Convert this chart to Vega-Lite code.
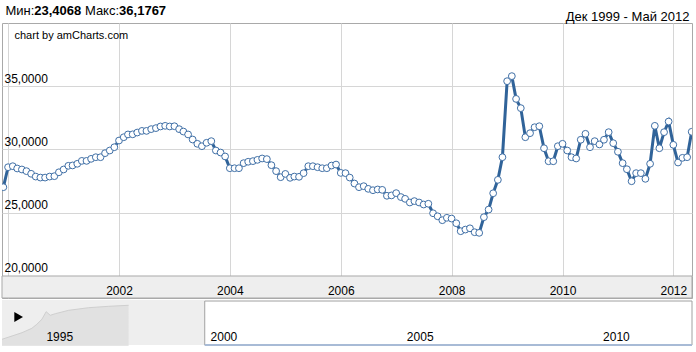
{
  "$schema": "https://vega.github.io/schema/vega-lite/v6.json",
  "background": "white",
  "padding": {"left": 0, "top": 3, "right": 6, "bottom": 0},
  "spacing": 0,
  "config": {
    "font": "Liberation Sans",
    "concat": {"spacing": 0},
    "view": {"stroke": null}
  },
  "datasets": {
    "rate": [
      {"d": "1999-12-01", "v": 27.02}, {"d": "2000-01-01", "v": 28.60}, {"d": "2000-02-01", "v": 28.68}, {"d": "2000-03-01", "v": 28.50},
      {"d": "2000-04-01", "v": 28.42}, {"d": "2000-05-01", "v": 28.29}, {"d": "2000-06-01", "v": 28.08}, {"d": "2000-07-01", "v": 27.86},
      {"d": "2000-08-01", "v": 27.78}, {"d": "2000-09-01", "v": 27.78}, {"d": "2000-10-01", "v": 27.86}, {"d": "2000-11-01", "v": 27.89},
      {"d": "2000-12-01", "v": 28.20}, {"d": "2001-01-01", "v": 28.42}, {"d": "2001-02-01", "v": 28.71}, {"d": "2001-03-01", "v": 28.74},
      {"d": "2001-04-01", "v": 28.87}, {"d": "2001-05-01", "v": 29.10}, {"d": "2001-06-01", "v": 29.10}, {"d": "2001-07-01", "v": 29.26},
      {"d": "2001-08-01", "v": 29.39}, {"d": "2001-09-01", "v": 29.39}, {"d": "2001-10-01", "v": 29.71}, {"d": "2001-11-01", "v": 29.92},
      {"d": "2001-12-01", "v": 30.18}, {"d": "2002-01-01", "v": 30.71}, {"d": "2002-02-01", "v": 30.97}, {"d": "2002-03-01", "v": 31.19},
      {"d": "2002-04-01", "v": 31.20}, {"d": "2002-05-01", "v": 31.34}, {"d": "2002-06-01", "v": 31.47}, {"d": "2002-07-01", "v": 31.47},
      {"d": "2002-08-01", "v": 31.61}, {"d": "2002-09-01", "v": 31.69}, {"d": "2002-10-01", "v": 31.82}, {"d": "2002-11-01", "v": 31.87},
      {"d": "2002-12-01", "v": 31.82}, {"d": "2003-01-01", "v": 31.84}, {"d": "2003-02-01", "v": 31.61}, {"d": "2003-03-01", "v": 31.42},
      {"d": "2003-04-01", "v": 31.19}, {"d": "2003-05-01", "v": 30.79}, {"d": "2003-06-01", "v": 30.45}, {"d": "2003-07-01", "v": 30.26},
      {"d": "2003-08-01", "v": 30.53}, {"d": "2003-09-01", "v": 30.66}, {"d": "2003-10-01", "v": 29.92}, {"d": "2003-11-01", "v": 29.76},
      {"d": "2003-12-01", "v": 29.45}, {"d": "2004-01-01", "v": 28.52}, {"d": "2004-02-01", "v": 28.52}, {"d": "2004-03-01", "v": 28.52},
      {"d": "2004-04-01", "v": 28.92}, {"d": "2004-05-01", "v": 29.03}, {"d": "2004-06-01", "v": 29.08}, {"d": "2004-07-01", "v": 29.18},
      {"d": "2004-08-01", "v": 29.29}, {"d": "2004-09-01", "v": 29.24}, {"d": "2004-10-01", "v": 28.76}, {"d": "2004-11-01", "v": 28.29},
      {"d": "2004-12-01", "v": 27.81}, {"d": "2005-01-01", "v": 28.07}, {"d": "2005-02-01", "v": 27.76}, {"d": "2005-03-01", "v": 27.86},
      {"d": "2005-04-01", "v": 27.84}, {"d": "2005-05-01", "v": 28.13}, {"d": "2005-06-01", "v": 28.68}, {"d": "2005-07-01", "v": 28.68},
      {"d": "2005-08-01", "v": 28.60}, {"d": "2005-09-01", "v": 28.52}, {"d": "2005-10-01", "v": 28.52}, {"d": "2005-11-01", "v": 28.73},
      {"d": "2005-12-01", "v": 28.81}, {"d": "2006-01-01", "v": 28.15}, {"d": "2006-02-01", "v": 28.13}, {"d": "2006-03-01", "v": 27.78},
      {"d": "2006-04-01", "v": 27.31}, {"d": "2006-05-01", "v": 27.02}, {"d": "2006-06-01", "v": 27.10}, {"d": "2006-07-01", "v": 26.89},
      {"d": "2006-08-01", "v": 26.78}, {"d": "2006-09-01", "v": 26.84}, {"d": "2006-10-01", "v": 26.81}, {"d": "2006-11-01", "v": 26.34},
      {"d": "2006-12-01", "v": 26.37}, {"d": "2007-01-01", "v": 26.55}, {"d": "2007-02-01", "v": 26.24}, {"d": "2007-03-01", "v": 26.10},
      {"d": "2007-04-01", "v": 25.81}, {"d": "2007-05-01", "v": 25.92}, {"d": "2007-06-01", "v": 25.81}, {"d": "2007-07-01", "v": 25.65},
      {"d": "2007-08-01", "v": 25.71}, {"d": "2007-09-01", "v": 24.96}, {"d": "2007-10-01", "v": 24.72}, {"d": "2007-11-01", "v": 24.41},
      {"d": "2007-12-01", "v": 24.60}, {"d": "2008-01-01", "v": 24.54}, {"d": "2008-02-01", "v": 24.17}, {"d": "2008-03-01", "v": 23.54},
      {"d": "2008-04-01", "v": 23.67}, {"d": "2008-05-01", "v": 23.77}, {"d": "2008-06-01", "v": 23.46}, {"d": "2008-07-01", "v": 23.41},
      {"d": "2008-08-01", "v": 24.65}, {"d": "2008-09-01", "v": 25.25}, {"d": "2008-10-01", "v": 26.54}, {"d": "2008-11-01", "v": 27.60},
      {"d": "2008-12-01", "v": 29.39}, {"d": "2009-01-01", "v": 35.40}, {"d": "2009-02-01", "v": 35.80}, {"d": "2009-03-01", "v": 34.00},
      {"d": "2009-04-01", "v": 33.27}, {"d": "2009-05-01", "v": 30.97}, {"d": "2009-06-01", "v": 31.29}, {"d": "2009-07-01", "v": 31.76},
      {"d": "2009-08-01", "v": 31.84}, {"d": "2009-09-01", "v": 30.10}, {"d": "2009-10-01", "v": 29.07}, {"d": "2009-11-01", "v": 29.07},
      {"d": "2009-12-01", "v": 30.26}, {"d": "2010-01-01", "v": 30.45}, {"d": "2010-02-01", "v": 29.92}, {"d": "2010-03-01", "v": 29.39},
      {"d": "2010-04-01", "v": 29.29}, {"d": "2010-05-01", "v": 30.77}, {"d": "2010-06-01", "v": 31.24}, {"d": "2010-07-01", "v": 30.18},
      {"d": "2010-08-01", "v": 30.66}, {"d": "2010-09-01", "v": 30.40}, {"d": "2010-10-01", "v": 30.77}, {"d": "2010-11-01", "v": 31.37},
      {"d": "2010-12-01", "v": 30.50}, {"d": "2011-01-01", "v": 29.82}, {"d": "2011-02-01", "v": 28.92}, {"d": "2011-03-01", "v": 28.44},
      {"d": "2011-04-01", "v": 27.49}, {"d": "2011-05-01", "v": 28.13}, {"d": "2011-06-01", "v": 28.13}, {"d": "2011-07-01", "v": 27.68},
      {"d": "2011-08-01", "v": 28.87}, {"d": "2011-09-01", "v": 31.87}, {"d": "2011-10-01", "v": 30.10}, {"d": "2011-11-01", "v": 31.37},
      {"d": "2011-12-01", "v": 32.21}, {"d": "2012-01-01", "v": 30.37}, {"d": "2012-02-01", "v": 28.97}, {"d": "2012-03-01", "v": 29.34},
      {"d": "2012-04-01", "v": 29.39}, {"d": "2012-05-01", "v": 31.40}
    ],
    "nav": [
      {"d": "1994-10-01", "v": 6.7}, {"d": "1995-01-02", "v": 10}, {"d": "1995-04-05", "v": 13.3}, {"d": "1995-07-06", "v": 17.7},
      {"d": "1995-08-21", "v": 21.7}, {"d": "1995-10-07", "v": 26.7}, {"d": "1995-11-16", "v": 34.3}, {"d": "1995-12-24", "v": 30.7},
      {"d": "1996-02-09", "v": 32.3}, {"d": "1996-06-13", "v": 35.7}, {"d": "1996-12-16", "v": 38.3}, {"d": "1997-06-20", "v": 39.7},
      {"d": "1997-12-22", "v": 40.7}
    ],
    "shade": [{"s": "1994-10-01", "e": "1999-12-01"}],
    "win": [{"s": "1999-12-01", "e": "2012-05-01"}]
  },
  "vconcat": [
    {
      "width": 690,
      "height": 275,
      "view": {"stroke": "#a9a9a9"},
      "resolve": {"axis": {"x": "independent", "y": "independent"}},
      "layer": [
        {
          "data": {"values": [{}]},
          "mark": {"type": "rect", "fill": "#eeeeee", "stroke": "#a9a9a9", "strokeWidth": 1},
          "encoding": {
            "x": {"datum": {"year": 1999, "month": 11, "date": 22, "utc": true}, "type": "temporal", "scale": {"type": "utc"},
              "axis": {"orient": "bottom", "grid": false, "ticks": false, "domain": false, "zindex": 1,
                "values": [{"year": 2002, "utc": true}, {"year": 2004, "utc": true}, {"year": 2006, "utc": true}, {"year": 2008, "utc": true}, {"year": 2010, "utc": true}, {"year": 2012, "utc": true}],
                "format": "%Y", "labelFontSize": 12, "labelColor": "#000000", "labelFont": "Liberation Sans", "labelBaseline": "alphabetic", "labelPadding": -4, "labelFlush": false, "labelOverlap": false,
                "title": "Мин:", "titleX": 3, "titleY": -284, "titleAlign": "left", "titleAnchor": null, "titleBaseline": "alphabetic", "titleAngle": 0,
                "titleFontSize": 13, "titleFontWeight": "normal", "titleColor": "#000000", "titleFont": "Liberation Sans"}},
            "x2": {"datum": {"year": 2012, "month": 5, "date": 3, "utc": true}},
            "y": {"datum": 18.26, "type": "quantitative",
              "axis": {"orient": "right", "grid": false, "labels": false, "ticks": false, "domain": false, "minExtent": 0, "maxExtent": 0,
                "title": "23,4068", "titleX": -658.2, "titleY": -9, "titleAlign": "left", "titleAnchor": null, "titleBaseline": "alphabetic", "titleAngle": 0,
                "titleFontSize": 13, "titleFontWeight": "bold", "titleColor": "#000000", "titleFont": "Liberation Sans"}},
            "y2": {"datum": 20}
          }
        },
        {
          "data": {"name": "rate"},
          "mark": {"type": "line", "color": "#306399", "strokeWidth": 3, "clip": true},
          "encoding": {
            "x": {"field": "d", "type": "temporal",
              "scale": {"type": "utc", "domain": [{"year": 1999, "month": 11, "date": 22, "utc": true}, {"year": 2012, "month": 5, "date": 3, "utc": true}]},
              "axis": {"orient": "top", "grid": true, "gridColor": "#d6d6d6", "labels": false, "ticks": false, "domain": false, "minExtent": 0, "maxExtent": 0,
                "values": [{"year": 2000, "utc": true}, {"year": 2002, "utc": true}, {"year": 2004, "utc": true}, {"year": 2006, "utc": true}, {"year": 2008, "utc": true}, {"year": 2010, "utc": true}, {"year": 2012, "utc": true}],
                "title": "Дек 1999 - Май 2012", "titleX": 687, "titleY": -3, "titleAlign": "right", "titleAnchor": null, "titleBaseline": "alphabetic",
                "titleFontSize": 13, "titleFontWeight": "normal", "titleColor": "#000000", "titleFont": "Liberation Sans"}},
            "y": {"field": "v", "type": "quantitative",
              "scale": {"domain": [18.26, 40], "nice": false, "zero": false},
              "axis": {"orient": "left", "values": [20, 25, 30, 35], "grid": true, "gridColor": "#d6d6d6", "ticks": false, "domain": false,
                "labelExpr": "replace(format(datum.value, '.4f'), '.', ',')",
                "labelAlign": "left", "labelBaseline": "alphabetic", "labelPadding": -2, "labelOffset": -4,
                "labelFontSize": 12, "labelColor": "#000000", "labelFont": "Liberation Sans",
                "title": "chart by amCharts.com", "titleAngle": 0, "titleAlign": "left", "titleBaseline": "alphabetic", "titleAnchor": null,
                "titleX": 12, "titleY": 15.5, "titleFontSize": 11, "titleFontWeight": "normal", "titleColor": "#000000", "titleFont": "Liberation Sans"}}
          }
        },
        {
          "data": {"name": "rate"},
          "mark": {"type": "point", "shape": "circle", "filled": true, "fill": "#ffffff", "stroke": "#3f6fa6", "strokeWidth": 1, "size": 46, "opacity": 1, "clip": true},
          "encoding": {
            "x": {"field": "d", "type": "temporal",
              "axis": {"orient": "top", "grid": false, "labels": false, "ticks": false, "domain": false, "minExtent": 0, "maxExtent": 0,
                "title": "Макс:", "titleX": 82.4, "titleY": -9, "titleAlign": "left", "titleAnchor": null, "titleBaseline": "alphabetic", "titleAngle": 0,
                "titleFontSize": 13, "titleFontWeight": "normal", "titleColor": "#000000", "titleFont": "Liberation Sans"}},
            "y": {"field": "v", "type": "quantitative",
              "axis": {"orient": "right", "grid": false, "labels": false, "ticks": false, "domain": false, "minExtent": 0, "maxExtent": 0,
                "title": "36,1767", "titleX": -573.4, "titleY": -9, "titleAlign": "left", "titleAnchor": null, "titleBaseline": "alphabetic", "titleAngle": 0,
                "titleFontSize": 13, "titleFontWeight": "bold", "titleColor": "#000000", "titleFont": "Liberation Sans"}}
          }
        }
      ]
    },
    {
      "width": 690,
      "height": 47,
      "view": {"stroke": null},
      "layer": [
        {
          "data": {"name": "shade"},
          "mark": {"type": "rect", "fill": "#eeeeee"},
          "encoding": {
            "x": {"field": "s", "type": "temporal",
              "scale": {"type": "utc", "domain": [{"year": 1994, "month": 10, "date": 1, "utc": true}, {"year": 2012, "month": 5, "date": 1, "utc": true}]},
              "axis": {"orient": "bottom", "grid": false, "ticks": false, "domain": false, "title": null, "zindex": 1,
                "values": [{"year": 1995, "utc": true}, {"year": 2000, "utc": true}, {"year": 2005, "utc": true}, {"year": 2010, "utc": true}],
                "format": "%Y", "labelFontSize": 12, "labelColor": "#000000", "labelFont": "Liberation Sans", "labelAlign": "left", "labelBaseline": "alphabetic", "labelPadding": -6,
                "labelOffset": {"condition": {"test": "utcyear(datum.value) === 1995", "value": 34}, "value": 2},
                "labelFlush": false, "labelOverlap": false}},
            "x2": {"field": "e"},
            "y": {"datum": 1, "type": "quantitative", "scale": {"domain": [0, 47], "nice": false, "zero": false}, "axis": null},
            "y2": {"datum": 46}
          }
        },
        {
          "data": {"name": "nav"},
          "mark": {"type": "area", "color": "#dcdcdc", "line": {"color": "#cfcfcf", "strokeWidth": 1}},
          "encoding": {
            "x": {"field": "d", "type": "temporal"},
            "y": {"field": "v", "type": "quantitative", "axis": null}
          }
        },
        {
          "data": {"name": "win"},
          "mark": {"type": "rect", "fill": "#ffffff", "stroke": "#a0a0a0", "strokeWidth": 1},
          "encoding": {
            "x": {"field": "s", "type": "temporal"},
            "x2": {"field": "e"},
            "y": {"datum": 1, "type": "quantitative", "axis": null},
            "y2": {"datum": 45}
          }
        },
        {
          "data": {"name": "win"},
          "mark": {"type": "rule", "color": "#a8bbd6", "strokeWidth": 2},
          "encoding": {
            "x": {"field": "s", "type": "temporal"},
            "x2": {"field": "e"},
            "y": {"datum": 1, "type": "quantitative", "axis": null}
          }
        },
        {
          "data": {"values": [{}]},
          "mark": {"type": "point", "shape": "triangle-right", "filled": true, "color": "#000000", "size": 100, "opacity": 1},
          "encoding": {
            "x": {"datum": {"year": 1995, "month": 3, "date": 5, "utc": true}, "type": "temporal"},
            "y": {"datum": 29, "type": "quantitative", "axis": null}
          }
        }
      ]
    }
  ]
}
